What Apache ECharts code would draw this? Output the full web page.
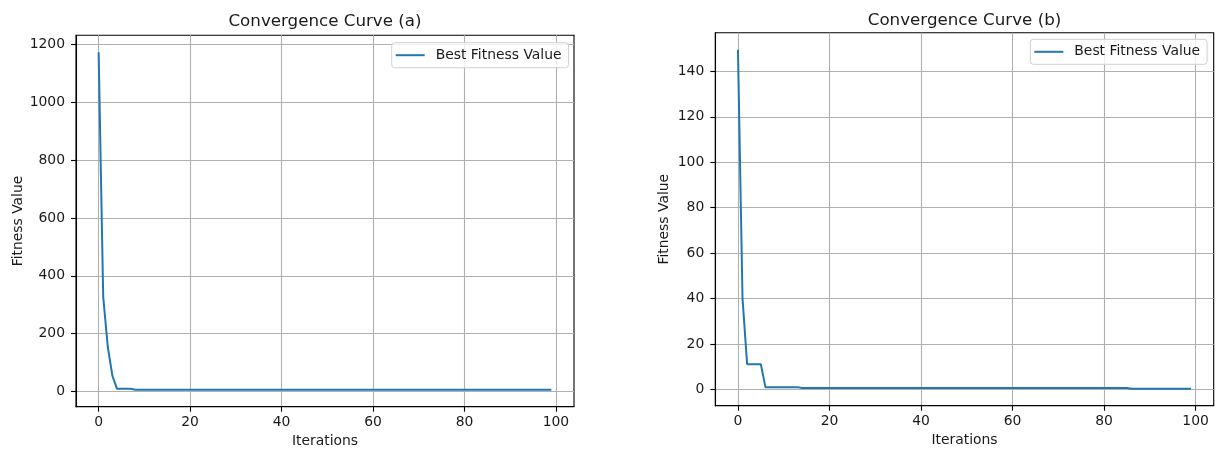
<!DOCTYPE html>
<html>
<head>
<meta charset="utf-8">
<script src="https://cdn.jsdelivr.net/npm/echarts@6/dist/echarts.min.js"></script>
<style>html,body{margin:0;padding:0;background:#fff;}#c{width:1216px;height:450px;}</style>
</head>
<body>
<div id="c"></div>
<script>
var iterations = [0,1,2,3,4,5,6,7,8,9,10,11,12,13,14,15,16,17,18,19,20,21,22,23,24,25,26,27,28,29,30,31,32,33,34,35,36,37,38,39,40,41,42,43,44,45,46,47,48,49,50,51,52,53,54,55,56,57,58,59,60,61,62,63,64,65,66,67,68,69,70,71,72,73,74,75,76,77,78,79,80,81,82,83,84,85,86,87,88,89,90,91,92,93,94,95,96,97,98,99];
var fitnessA = [1173,327,155,55,10,10,10,10,6,6,6,6,6,6,6,6,6,6,6,6,6,6,6,6,6,6,6,6,6,6,6,6,6,6,6,6,6,6,6,6,6,6,6,6,6,6,6,6,6,6,6,6,6,6,6,6,6,6,6,6,6,6,6,6,6,6,6,6,6,6,6,6,6,6,6,6,6,6,6,6,6,6,6,6,6,6,6,6,6,6,6,6,6,6,6,6,6,6,6,6];
var fitnessB = [149.5,40,11.2,11.2,11.2,11.2,1.1,1.1,1.1,1.1,1.1,1.1,1.1,1.1,0.7,0.7,0.7,0.7,0.7,0.7,0.7,0.7,0.7,0.7,0.7,0.7,0.7,0.7,0.7,0.7,0.7,0.7,0.7,0.7,0.7,0.7,0.7,0.7,0.7,0.7,0.7,0.7,0.7,0.7,0.7,0.7,0.7,0.7,0.7,0.7,0.7,0.7,0.7,0.7,0.7,0.7,0.7,0.7,0.7,0.7,0.7,0.7,0.7,0.7,0.7,0.7,0.7,0.7,0.7,0.7,0.7,0.7,0.7,0.7,0.7,0.7,0.7,0.7,0.7,0.7,0.7,0.7,0.7,0.7,0.7,0.7,0.4,0.4,0.4,0.4,0.4,0.4,0.4,0.4,0.4,0.4,0.4,0.4,0.4,0.4];
var xTicks = [0,20,40,60,80,100];
var yTicksA = [0,200,400,600,800,1000,1200];
var yTicksB = [0,20,40,60,80,100,120,140];
var titles = ['Convergence Curve (a)','Convergence Curve (b)'];
var seriesName = 'Best Fitness Value';
var xName = 'Iterations';
var yName = 'Fitness Value';

var FONT = 'DejaVu Sans';
var TXT = '#1a1a1a';
var LINE = '#1f77b4';

function pairs(xs, ys){ return xs.map(function(x,i){ return [x, ys[i]]; }); }
function plain(v){ return String(v); }

function xAxisCfg(gi){
  return {
    type:'value', gridIndex:gi, min:-4.95, max:103.95,
    name:xName, nameLocation:'middle', nameGap:28,
    nameTextStyle:{fontFamily:FONT,fontSize:13.9,color:TXT},
    axisLine:{show:true,onZero:false,lineStyle:{color:'#000',width:1.1}},
    axisTick:{show:true,inside:false,length:5,lineStyle:{color:'#000',width:1.1},customValues:xTicks},
    axisLabel:{fontFamily:FONT,fontSize:13.9,color:TXT,margin:9,customValues:xTicks,formatter:plain},
    splitLine:{show:true,lineStyle:{color:'#b0b0b0',width:1.1}}
  };
}
function yAxisCfg(gi,min,max,ticks,gap){
  return {
    type:'value', gridIndex:gi, min:min, max:max,
    name:yName, nameLocation:'middle', nameGap:gap,
    nameTextStyle:{fontFamily:FONT,fontSize:13.9,color:TXT},
    axisLine:{show:true,onZero:false,lineStyle:{color:'#000',width:1.1}},
    axisTick:{show:true,inside:false,length:5,lineStyle:{color:'#000',width:1.1},customValues:ticks},
    axisLabel:{fontFamily:FONT,fontSize:13.9,color:TXT,margin:11,customValues:ticks,formatter:plain},
    splitLine:{show:true,lineStyle:{color:'#b0b0b0',width:1.1}}
  };
}
function legendCfg(left,top){
  return {
    data:[seriesName], left:left, top:top, orient:'vertical',
    icon:'path://M0 0H29V2H0Z',
    itemWidth:29, itemHeight:2,
    padding:[5,7,5,4],
    backgroundColor:'rgba(255,255,255,0.8)',
    borderColor:'#d0d0d0', borderWidth:1, borderRadius:3,
    textStyle:{fontFamily:FONT,fontSize:13.9,color:TXT,padding:[0,0,0,6],lineHeight:15},
    selectedMode:false
  };
}

var chart = echarts.init(document.getElementById('c'), null, {renderer:'canvas'});
chart.setOption({
  animation:false,
  backgroundColor:'#fff',
  title:[
    {text:titles[0], left:325, top:13, textAlign:'center', padding:0,
     textStyle:{fontFamily:FONT,fontSize:16.7,fontWeight:'normal',color:TXT}},
    {text:titles[1], left:964.5, top:12, textAlign:'center', padding:0,
     textStyle:{fontFamily:FONT,fontSize:16.7,fontWeight:'normal',color:TXT}}
  ],
  legend:[ legendCfg(391.7,42.7), legendCfg(1030.3,39.3) ],
  grid:[
    {left:76, top:35.3, right:642, bottom:43.3, show:true, borderColor:'#000', borderWidth:1.1, backgroundColor:'transparent', containLabel:false, outerBoundsMode:'none'},
    {left:715.3, top:32.7, right:2.3, bottom:44.3, show:true, borderColor:'#000', borderWidth:1.1, backgroundColor:'transparent', containLabel:false, outerBoundsMode:'none'}
  ],
  xAxis:[ xAxisCfg(0), xAxisCfg(1) ],
  yAxis:[ yAxisCfg(0,-52.3,1231.3,yTicksA,48), yAxisCfg(1,-7.06,156.96,yTicksB,44) ],
  series:[
    {name:seriesName, type:'line', xAxisIndex:0, yAxisIndex:0, data:pairs(iterations,fitnessA),
     showSymbol:false, symbol:'none', lineStyle:{color:LINE,width:2}, itemStyle:{color:LINE}, z:3},
    {name:seriesName, type:'line', xAxisIndex:1, yAxisIndex:1, data:pairs(iterations,fitnessB),
     showSymbol:false, symbol:'none', lineStyle:{color:LINE,width:2}, itemStyle:{color:LINE}, z:3}
  ]
});
</script>
</body>
</html>
